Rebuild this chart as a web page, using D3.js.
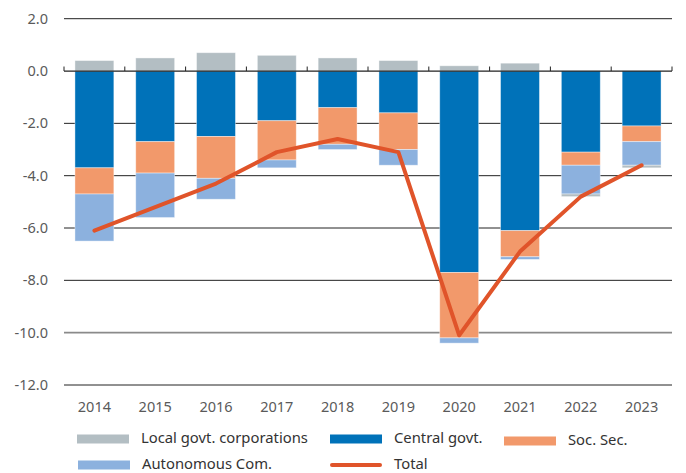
<!DOCTYPE html>
<html>
<head>
<meta charset="utf-8">
<script src="https://cdn.jsdelivr.net/npm/d3@7"></script>
<style>
  body { margin: 0; background: #fff; }
  svg text { font-family: "Noto Sans", "Open Sans", sans-serif; }
</style>
</head>
<body>
<div id="chart"></div>
<script>
// данные
const years = ["2014", "2015", "2016", "2017", "2018", "2019", "2020", "2021", "2022", "2023"];
const central = [-3.7, -2.7, -2.5, -1.9, -1.4, -1.6, -7.7, -6.1, -3.1, -2.1];
const socSec = [-1.0, -1.2, -1.6, -1.5, -1.4, -1.4, -2.5, -1.0, -0.5, -0.6];
const autonomous = [-1.8, -1.7, -0.8, -0.3, -0.2, -0.6, -0.2, -0.1, -1.1, -0.9];
const local = [0.4, 0.5, 0.7, 0.6, 0.5, 0.4, 0.2, 0.3, -0.1, -0.1];
const total = [-6.1, -5.2, -4.3, -3.1, -2.6, -3.1, -10.1, -6.9, -4.8, -3.6];
const yTicks = [2, 0, -2, -4, -6, -8, -10, -12];

const series = [
  { key: "central", name: "Central govt.", values: central, color: "#0072b9" },
  { key: "soc", name: "Soc. Sec.", values: socSec, color: "#f2996b" },
  { key: "auto", name: "Autonomous Com.", values: autonomous, color: "#8cb1de" },
  { key: "local", name: "Local govt. corporations", values: local, color: "#b3bec3" }
];
const colors = {};
series.forEach(function(s) { colors[s.key] = s.color; });

const rows = years.map(function(y, i) {
  let r = { year: y };
  series.forEach(function(s) { r[s.key] = s.values[i]; });
  return r;
});

const W = 686, H = 473;
const mLeft = 64, mRight = 672, mTop = 18.7, mBottom = 385;

const svg = d3.select("#chart").append("svg")
  .attr("width", W)
  .attr("height", H);

const x = d3.scaleBand()
  .domain(years)
  .range([mLeft, mRight])
  .paddingInner(0.36)
  .paddingOuter(0.18);

const y = d3.scaleLinear()
  .domain([-12, 2])
  .range([mBottom, mTop]);

// сетка
svg.append("g")
  .selectAll("line")
  .data(yTicks.filter(function(d) { return d != 0; }))
  .enter()
  .append("line")
  .attr("x1", mLeft)
  .attr("x2", mRight)
  .attr("y1", function(d) { return y(d); })
  .attr("y2", function(d) { return y(d); })
  .attr("stroke", function(d) { return d == -10 ? "#8a8a8a" : "#222"; })
  .attr("stroke-width", function(d) { return d == -10 ? 1.6 : 1; });

// подписи оси Y (обычный дефис вместо минуса, как в оригинале)
svg.append("g")
  .selectAll("text")
  .data(yTicks)
  .enter()
  .append("text")
  .attr("x", 48)
  .attr("y", function(d) { return y(d); })
  .attr("dy", "0.35em")
  .attr("text-anchor", "end")
  .attr("font-size", 14.5)
  .attr("fill", "#5a5a5a")
  .text(function(d) { return d3.format(".1f")(d).replace("\u2212", "-"); });

// столбики
const stack = d3.stack()
  .keys(series.map(function(s) { return s.key; }))
  .offset(d3.stackOffsetDiverging);

svg.append("g")
  .selectAll("g")
  .data(stack(rows))
  .enter()
  .append("g")
  .attr("fill", function(d) { return colors[d.key]; })
  .selectAll("rect")
  .data(function(d) { return d; })
  .enter()
  .append("rect")
  .attr("x", function(d) { return x(d.data.year); })
  .attr("width", x.bandwidth())
  .attr("y", function(d) { return y(d[1]); })
  .attr("height", function(d) { return Math.abs(y(d[0]) - y(d[1])); })
  .attr("stroke", "#ffffff")
  .attr("stroke-opacity", 0.5)
  .attr("stroke-width", 0.8);

// ось X (нулевая линия с засечками)
const zero = y(0);
svg.append("line")
  .attr("x1", mLeft)
  .attr("x2", mRight)
  .attr("y1", zero)
  .attr("y2", zero)
  .attr("stroke", "#222")
  .attr("stroke-width", 1.2);

const bounds = years.map(function(d) { return x(d) - x.step() * x.paddingInner() / 2; });
bounds.push(mRight);
svg.append("g")
  .selectAll("line")
  .data(bounds)
  .enter()
  .append("line")
  .attr("x1", function(d) { return d; })
  .attr("x2", function(d) { return d; })
  .attr("y1", zero)
  .attr("y2", zero - 4.5)
  .attr("stroke", "#222")
  .attr("stroke-width", 1);

svg.append("g")
  .selectAll("text")
  .data(years)
  .enter()
  .append("text")
  .attr("x", function(d) { return x(d) + x.bandwidth() / 2; })
  .attr("y", 407)
  .attr("dy", "0.35em")
  .attr("text-anchor", "middle")
  .attr("font-size", 14.5)
  .attr("fill", "#5a5a5a")
  .text(function(d) { return d; });

// итог
const line = d3.line()
  .x(function(d, i) { return x(years[i]) + x.bandwidth() / 2; })
  .y(function(d) { return y(d); });

svg.append("path")
  .datum(total)
  .attr("d", line)
  .attr("fill", "none")
  .attr("stroke", "#e0542a")
  .attr("stroke-width", 4)
  .attr("stroke-linejoin", "round")
  .attr("stroke-linecap", "round");

// легенда
const legend = [
  { name: "Local govt. corporations", color: colors.local, type: "rect", lx: 77, ly: 439 },
  { name: "Central govt.", color: colors.central, type: "rect", lx: 330, ly: 439 },
  { name: "Soc. Sec.", color: colors.soc, type: "rect", lx: 504, ly: 441 },
  { name: "Autonomous Com.", color: colors.auto, type: "rect", lx: 78, ly: 465 },
  { name: "Total", color: "#e0542a", type: "line", lx: 330, ly: 465 }
];

const lg = svg.append("g")
  .selectAll("g")
  .data(legend)
  .enter()
  .append("g")
  .attr("transform", function(d) { return "translate(" + d.lx + "," + d.ly + ")"; });

lg.filter(function(d) { return d.type == "rect"; })
  .append("rect")
  .attr("x", 0)
  .attr("y", -4.5)
  .attr("width", 52)
  .attr("height", 9)
  .attr("fill", function(d) { return d.color; });

lg.filter(function(d) { return d.type == "line"; })
  .append("line")
  .attr("x1", 2)
  .attr("x2", 50)
  .attr("y1", 0)
  .attr("y2", 0)
  .attr("stroke", function(d) { return d.color; })
  .attr("stroke-width", 4)
  .attr("stroke-linecap", "round");

lg.append("text")
  .attr("x", 64)
  .attr("y", -1)
  .attr("dy", "0.35em")
  .attr("font-size", 14.8)
  .attr("fill", "#333")
  .text(function(d) { return d.name; });
</script>
</body>
</html>
